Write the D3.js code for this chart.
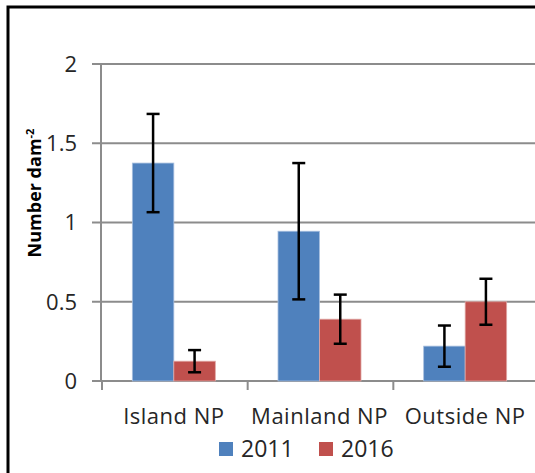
<!DOCTYPE html>
<html>
<head>
<meta charset="utf-8">
<script src="https://cdn.jsdelivr.net/npm/d3@7"></script>
<style>
  body { margin: 0; background: #fff; }
  svg text { font-family: "Open Sans", "Noto Sans", sans-serif; fill: #262626; }
</style>
</head>
<body>
<div id="chart"></div>
<script>
// data
var categories = ["Island NP", "Mainland NP", "Outside NP"];
var series = ["2011", "2016"];
var colors = ["#4F81BD", "#C0504D"];
var values2011 = [1.375, 0.945, 0.22];
var values2016 = [0.125, 0.39, 0.50];
var err2011 = [0.31, 0.43, 0.13];
var err2016 = [0.07, 0.155, 0.145];
var yTicks = [0, 0.5, 1, 1.5, 2];

var width = 535, height = 473;
var svg = d3.select("#chart").append("svg")
    .attr("width", width)
    .attr("height", height);

// chart frame (only left/top visible, rest is cropped)
svg.append("rect")
  .attr("x", 8).attr("y", 7)
  .attr("width", 600).attr("height", 600)
  .style("fill", "none")
  .style("stroke", "#000")
  .style("stroke-width", 3);

var plotLeft = 101, plotRight = 538, plotTop = 64, plotBottom = 381;

var y = d3.scaleLinear().domain([0, 2]).range([plotBottom, plotTop]);
var x0 = d3.scaleBand().domain(categories).range([plotLeft, plotRight]);
var x1 = d3.scaleBand().domain(series).range([0, x0.bandwidth()]).paddingOuter(0.755);

// gridlines
svg.selectAll(".grid")
  .data(yTicks)
  .enter()
  .append("line")
  .attr("x1", plotLeft - 9)
  .attr("x2", width)
  .attr("y1", function(d) { return y(d); })
  .attr("y2", function(d) { return y(d); })
  .style("stroke", "#8c8c8c")
  .style("stroke-width", 2);

// y axis line
svg.append("line")
  .attr("x1", plotLeft).attr("x2", plotLeft)
  .attr("y1", plotTop).attr("y2", plotBottom + 1)
  .style("stroke", "#8c8c8c")
  .style("stroke-width", 2);

// y tick labels
svg.selectAll(".ylab")
  .data(yTicks)
  .enter()
  .append("text")
  .attr("x", 77)
  .attr("y", function(d) { return y(d); })
  .attr("dy", "0.36em")
  .attr("text-anchor", "end")
  .attr("font-size", "22px")
  .text(function(d) { return d; });

// category ticks
var catEdges = [0, 1, 2].map(function(i) { return x0(categories[i]); });
svg.selectAll(".ctick")
  .data(catEdges)
  .enter()
  .append("line")
  .attr("x1", function(d) { return d + 1; })
  .attr("x2", function(d) { return d + 1; })
  .attr("y1", plotBottom)
  .attr("y2", plotBottom + 9)
  .style("stroke", "#8c8c8c")
  .style("stroke-width", 2);

// bars
var rows = [];
categories.forEach(function(c, i) {
  rows.push({cat: c, s: 0, v: values2011[i], e: err2011[i]});
  rows.push({cat: c, s: 1, v: values2016[i], e: err2016[i]});
});

svg.selectAll(".bar")
  .data(rows)
  .enter()
  .append("rect")
  .attr("x", function(d) { return x0(d.cat) + x1(series[d.s]); })
  .attr("width", x1.bandwidth())
  .attr("y", function(d) { return y(d.v); })
  .attr("height", function(d) { return plotBottom - y(d.v); })
  .style("fill", function(d) { return colors[d.s]; })
  .style("stroke", function(d) { return d.s == 0 ? "#a7bfdf" : "#e0a8a6"; })
  .style("stroke-width", 0.8);

// error bars
var eb = svg.selectAll(".err")
  .data(rows)
  .enter()
  .append("g")
  .attr("transform", function(d) {
    return "translate(" + (x0(d.cat) + x1(series[d.s]) + x1.bandwidth() / 2) + ",0)";
  });
eb.append("line")
  .attr("y1", function(d) { return y(d.v + d.e); })
  .attr("y2", function(d) { return y(d.v - d.e); })
  .style("stroke", "#000").style("stroke-width", 2.5);
eb.append("line")
  .attr("x1", -6.5).attr("x2", 6.5)
  .attr("y1", function(d) { return y(d.v + d.e); })
  .attr("y2", function(d) { return y(d.v + d.e); })
  .style("stroke", "#000").style("stroke-width", 2.5);
eb.append("line")
  .attr("x1", -6.5).attr("x2", 6.5)
  .attr("y1", function(d) { return y(d.v - d.e); })
  .attr("y2", function(d) { return y(d.v - d.e); })
  .style("stroke", "#000").style("stroke-width", 2.5);

// category labels
svg.selectAll(".clab")
  .data(categories)
  .enter()
  .append("text")
  .attr("x", function(d) { return x0(d) + x0.bandwidth() / 2; })
  .attr("y", 424)
  .attr("text-anchor", "middle")
  .attr("font-size", "22px")
  .style("letter-spacing", "0.5px")
  .text(function(d) { return d; });

// y axis title
var yt = svg.append("text")
  .attr("transform", "translate(41,193) rotate(-90)")
  .attr("text-anchor", "middle")
  .attr("font-size", "18px")
  .attr("font-weight", "bold")
  .style("fill", "#000");
yt.append("tspan").text("Number dam");
yt.append("tspan").attr("dy", "-0.6em").attr("font-size", "11px").text("-2");

// legend
var legX = [219, 319];
var leg = svg.selectAll(".leg")
  .data(series)
  .enter()
  .append("g")
  .attr("transform", function(d, i) { return "translate(" + legX[i] + ",442)"; });
leg.append("rect")
  .attr("width", 14).attr("height", 14)
  .style("fill", function(d, i) { return colors[i]; });
leg.append("text")
  .attr("x", 22).attr("y", 15)
  .attr("font-size", "23px")
  .text(function(d) { return d; });
</script>
</body>
</html>
